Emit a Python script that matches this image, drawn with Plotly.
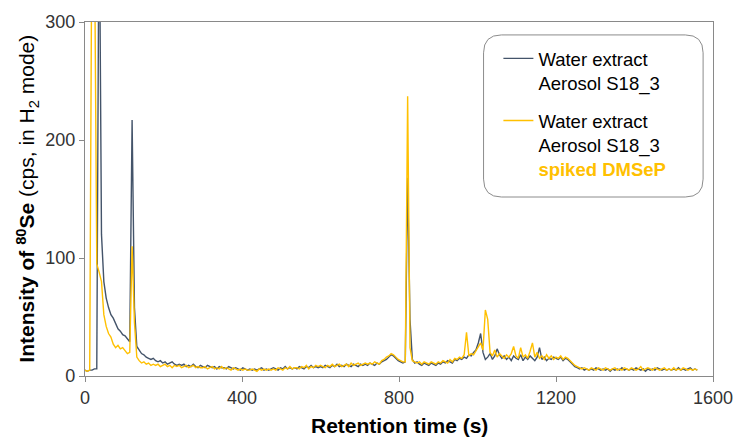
import numpy as np
import plotly.graph_objects as go

# Retention time grid (s), 6-s sampling from 0 to 1560
time_s = list(range(0, 1561, 6))

# Water extract Aerosol S18_3 (cps)
dark_vals = [
    5, 4, 5, 5, 6, 6, 420, 120, 80, 66,
    58, 52, 49, 44, 40, 38, 35, 34, 31, 29,
    217, 58, 25, 22, 19, 18, 16, 15, 14, 15,
    13, 12, 13, 11, 12, 10, 11, 12, 10, 9,
    10, 9, 10, 8, 9, 8, 10, 8, 7, 9,
    8, 7, 9, 8, 7, 8, 6, 8, 7, 7,
    6, 8, 7, 6, 7, 6, 5, 7, 6, 5,
    6, 5, 6, 5, 6, 7, 5, 6, 5, 6,
    7, 6, 5, 7, 6, 8, 6, 7, 6, 7,
    6, 8, 7, 6, 8, 7, 9, 7, 8, 7,
    8, 7, 9, 8, 7, 9, 8, 10, 8, 9,
    8, 10, 9, 8, 10, 9, 8, 10, 9, 10,
    9, 11, 10, 9, 11, 10, 12, 13, 14, 16,
    18, 17, 15, 13, 12, 11, 12, 168, 48, 14,
    11, 12, 10, 9, 11, 10, 9, 11, 10, 9,
    11, 10, 12, 11, 13, 12, 11, 14, 13, 15,
    14, 16, 15, 18, 17, 20, 22, 28, 36, 20,
    14, 16, 19, 14, 17, 23, 18, 15, 17, 14,
    16, 13, 17, 15, 14, 18, 13, 16, 14, 17,
    15, 13, 16, 24, 14, 16, 13, 15, 14, 16,
    15, 14, 16, 13, 15, 14, 12, 10, 8, 7,
    6, 7, 5, 6, 5, 6, 5, 7, 6, 5,
    6, 5, 6, 4, 6, 5, 6, 5, 7, 5,
    6, 5, 6, 5, 7, 6, 5, 6, 4, 6,
    5, 6, 5, 7, 6, 5, 6, 5, 6, 5,
    6, 5, 7, 5, 6, 5, 6, 7, 5, 6,
    5,
]

# Water extract Aerosol S18_3 spiked DMSeP (cps)
yellow_vals = [
    5, 4, 5, 420, 380, 95, 88, 80, 52, 42,
    36, 33, 27, 24, 26, 23, 24, 21, 19, 20,
    110, 45, 16, 13, 11, 12, 10, 11, 9, 10,
    9, 10, 8, 9, 10, 8, 9, 7, 9, 8,
    9, 7, 8, 9, 7, 8, 9, 7, 8, 7,
    7, 8, 6, 7, 8, 6, 7, 6, 8, 6,
    7, 6, 5, 7, 6, 5, 6, 5, 6, 5,
    5, 6, 5, 4, 6, 5, 6, 5, 6, 5,
    6, 5, 7, 6, 5, 7, 6, 8, 6, 7,
    7, 6, 8, 7, 9, 6, 8, 7, 9, 8,
    9, 8, 7, 9, 8, 10, 8, 9, 10, 8,
    9, 10, 8, 11, 9, 10, 11, 9, 10, 11,
    10, 11, 10, 12, 11, 10, 13, 14, 16, 17,
    19, 18, 16, 14, 13, 12, 12, 237, 24, 13,
    12, 11, 12, 10, 12, 11, 10, 12, 11, 10,
    12, 11, 13, 12, 11, 14, 12, 15, 14, 16,
    15, 18, 37, 17, 19, 18, 21, 24, 28, 22,
    56, 48, 20, 17, 22, 16, 19, 17, 15, 18,
    16, 19, 25, 17, 15, 24, 16, 18, 15, 21,
    28, 16, 20, 15, 17, 14, 18, 15, 17, 14,
    16, 15, 17, 14, 16, 15, 13, 11, 9, 8,
    7, 6, 7, 6, 5, 7, 6, 5, 7, 6,
    5, 7, 6, 5, 6, 7, 5, 6, 5, 7,
    6, 5, 7, 6, 5, 6, 8, 5, 6, 7,
    6, 5, 7, 6, 5, 6, 7, 5, 6, 5,
    7, 5, 6, 5, 7, 6, 5, 6, 5, 6,
    5,
]

x_ticks = [0, 400, 800, 1200, 1600]
y_ticks = [0, 100, 200, 300]

DARK = "#44546A"
GOLD = "#FFC000"
FONT = "Liberation Sans, Arial, sans-serif"

W, H = 745, 441
ML, MR, MT, MB = 85, 25, 20, 65
PW, PH = W - ML - MR, H - MT - MB


def px_to_paper(xp, yp):
    return (xp - ML) / PW, (H - MB - yp) / PH


fig = go.Figure()
fig.add_trace(go.Scatter(
    x=time_s, y=dark_vals, mode="lines",
    line=dict(color=DARK, width=1.4),
    name="Water extract<br>Aerosol S18_3", legendgroup="a",
))
fig.add_trace(go.Scatter(
    x=time_s, y=yellow_vals, mode="lines",
    line=dict(color=GOLD, width=1.4),
    name="Water extract<br>Aerosol S18_3<br><b><span style='color:#FFC000'>spiked DMSeP</span></b>",
    legendgroup="b",
))

# rounded legend frame
x0, y0, x1, y1, r = 488, 33, 710, 196, 18
def P(xp, yp):
    a, b = px_to_paper(xp, yp)
    return f"{a:.5f},{b:.5f}"
path = (f"M {P(x0 + r, y0)} L {P(x1 - r, y0)} Q {P(x1, y0)} {P(x1, y0 + r)} "
        f"L {P(x1, y1 - r)} Q {P(x1, y1)} {P(x1 - r, y1)} "
        f"L {P(x0 + r, y1)} Q {P(x0, y1)} {P(x0, y1 - r)} "
        f"L {P(x0, y0 + r)} Q {P(x0, y0)} {P(x0 + r, y0)} Z")
fig.add_shape(type="path", path=path, xref="paper", yref="paper",
              line=dict(color="#8C8C8C", width=1), fillcolor="white", layer="below")

lx, ly = px_to_paper(503, 38)

axis_common = dict(
    showline=True, linecolor="#898989", linewidth=1.3, mirror=True,
    ticks="outside", ticklen=5, tickcolor="#898989", tickwidth=1.3,
    showgrid=False, zeroline=False,
    tickfont=dict(family=FONT, size=18, color="#333333"),
)

fig.update_layout(
    width=W, height=H,
    margin=dict(l=ML, r=MR, t=MT, b=MB),
    paper_bgcolor="white", plot_bgcolor="white",
    font=dict(family=FONT, color="#000000"),
    xaxis=dict(range=[0, 1600], tickvals=x_ticks, **axis_common),
    yaxis=dict(range=[0, 300], tickvals=y_ticks, **axis_common),
    showlegend=True,
    legend=dict(
        x=lx, y=ly, xanchor="left", yanchor="top",
        bgcolor="rgba(0,0,0,0)", borderwidth=0,
        font=dict(family=FONT, size=18.5, color="#000000"),
        valign="top", tracegroupgap=11, itemwidth=30,
    ),
    annotations=[
        dict(text="<b>Retention time (s)</b>", xref="paper", yref="paper",
             x=px_to_paper(403, 0)[0], y=px_to_paper(0, 426)[1], xanchor="center", yanchor="middle",
             showarrow=False, font=dict(family=FONT, size=21, color="#000000")),
        dict(text="<b>Intensity of <sup>80</sup>Se</b> (cps, in H<sub>2</sub> mode)",
             xref="paper", yref="paper",
             x=px_to_paper(26, 0)[0], y=px_to_paper(0, 198)[1],
             xanchor="center", yanchor="middle", textangle=-90,
             showarrow=False, font=dict(family=FONT, size=21, color="#000000")),
    ],
)

fig.write_html("out.html", config={"displayModeBar": False},
               post_script="document.body.style.margin='0';document.body.style.padding='0';")
